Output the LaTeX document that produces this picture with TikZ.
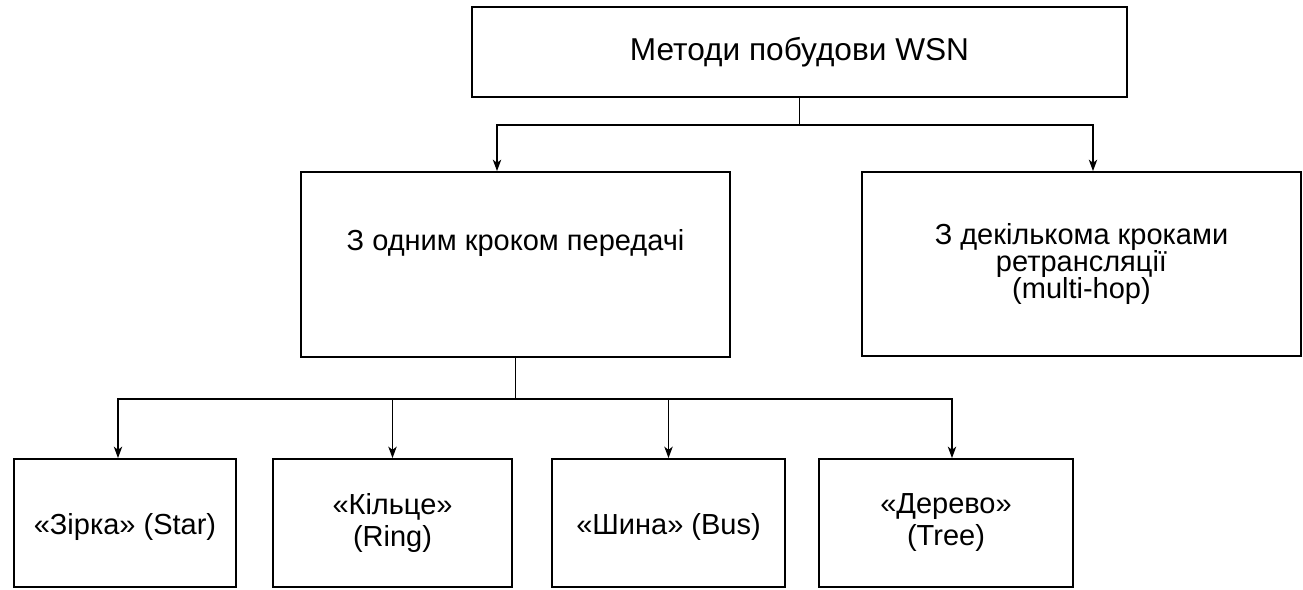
\documentclass[tikz,border=0pt]{standalone}
\usepackage{fontspec}
\setmainfont{Liberation Sans}
\usetikzlibrary{arrows.meta}
\begin{document}
\begin{tikzpicture}[x=0.02cm,y=-0.02cm,
  box/.style={draw,line width=1.1pt,align=center,inner sep=2pt,font=\fontsize{16.5}{18.2}\selectfont},
  wire/.style={line width=0.75pt},
  link/.style={wire,-{Stealth[length=6.5pt,width=4.8pt,inset=1.8pt]}}]
  \useasboundingbox (0,0) rectangle (1303,589);
  % levels
  \node[box,minimum width=13.12cm,minimum height=1.8cm,font=\fontsize{18}{20}\selectfont] (root) at (799.5,52) {Методи побудови WSN};
  \node[box,minimum width=8.58cm,minimum height=3.7cm,text depth=1cm] (one) at (515.5,264.5) {З одним кроком передачі};
  \node[box,minimum width=8.78cm,minimum height=3.68cm,font=\fontsize{16.5}{15.6}\selectfont] (multi) at (1081.5,264) {З декількома кроками\\ретрансляції\\(multi-hop)};
  \node[box,minimum width=4.44cm,minimum height=2.56cm,text height=16pt] (star) at (125,523) {«Зірка» (Star)};
  \node[box,minimum width=4.78cm,minimum height=2.56cm] (ring) at (392.5,523) {«Кільце»\\(Ring)};
  \node[box,minimum width=4.66cm,minimum height=2.56cm,text height=16pt] (bus) at (668.5,523) {«Шина» (Bus)};
  \node[box,minimum width=5.08cm,minimum height=2.56cm] (tree) at (946,523) {«Дерево»\\(Tree)};
  % connectors
  \coordinate (split1) at (root.south |- 0,125);
  \coordinate (split2) at (one.south |- 0,399);
  \draw[wire] (root.south) -- (split1);
  \draw[link] (split1) -| ([xshift=-0.37cm]one.north);
  \draw[link] (split1) -| ([xshift=0.23cm]multi.north);
  \draw[wire] (one.south) -- (split2);
  \foreach \n/\s in {star/-0.14cm,ring/0cm,bus/0cm,tree/0.12cm}
    \draw[link] (split2) -| ([xshift=\s]\n.north);
\end{tikzpicture}
\end{document}
